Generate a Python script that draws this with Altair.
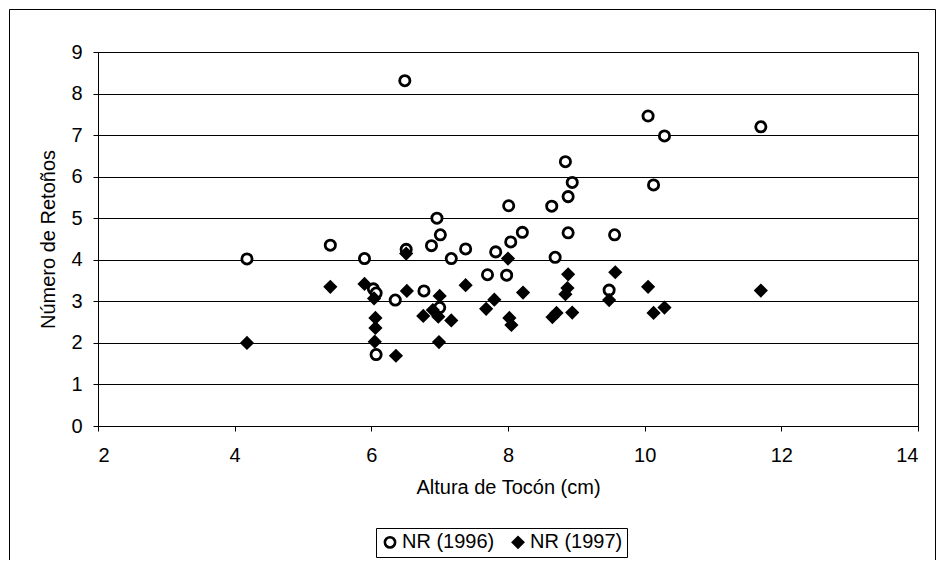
import altair as alt
import pandas as pd

# NR (1996) - open circles
x_1996 = [4.18, 5.40, 5.90, 6.49, 6.51, 6.03, 6.07, 6.35, 6.77, 6.07, 6.88, 6.96, 7.01,
          7.00, 7.17, 7.38, 7.70, 7.82, 7.98, 8.01, 8.04, 8.21, 8.64, 8.69, 8.84, 8.88,
          8.94, 8.88, 9.48, 9.56, 10.05, 10.13, 10.29, 11.70]
y_1996 = [4.02, 4.35, 4.03, 8.31, 4.25, 3.30, 3.20, 3.03, 3.25, 1.72, 4.34, 5.00, 4.60,
          2.85, 4.03, 4.26, 3.64, 4.19, 3.63, 5.30, 4.43, 4.66, 5.29, 4.06, 6.36, 5.52,
          5.86, 4.65, 3.27, 4.60, 7.46, 5.80, 6.98, 7.20]

# NR (1997) - filled diamonds
x_1997 = [4.18, 5.40, 5.90, 6.04, 6.06, 6.06, 6.05, 6.36, 6.51, 6.52, 6.76, 6.90, 6.98,
          7.00, 6.99, 7.17, 7.38, 7.68, 7.80, 8.00, 8.02, 8.05, 8.22, 8.65, 8.71, 8.88,
          8.87, 8.84, 8.94, 9.48, 9.57, 10.05, 10.13, 10.29, 11.70]
y_1997 = [2.00, 3.35, 3.42, 3.07, 2.60, 2.36, 2.03, 1.69, 4.15, 3.25, 2.65, 2.79, 2.63,
          3.13, 2.02, 2.54, 3.39, 2.82, 3.04, 4.03, 2.60, 2.43, 3.21, 2.62, 2.72, 3.65,
          3.32, 3.17, 2.73, 3.03, 3.70, 3.35, 2.72, 2.85, 3.26]

series_names = ["NR (1996)", "NR (1997)"]

df = pd.concat([
    pd.DataFrame({"x": x_1996, "y": y_1996, "serie": series_names[0]}),
    pd.DataFrame({"x": x_1997, "y": y_1997, "serie": series_names[1]}),
], ignore_index=True)

FONT = "Liberation Sans"
W, H = 820, 374
PL, PT, PR, PB = 90, 44, 18, 134

leg = alt.Legend(title=None, orient="none", direction="horizontal",
                 legendX=278, legendY=476)

points = alt.Chart(df).mark_point(filled=True, strokeWidth=2.8, opacity=1).encode(
    x=alt.X("x:Q", title="Altura de Tocón (cm)",
            scale=alt.Scale(domain=[2, 14], nice=False),
            axis=alt.Axis(values=[2, 4, 6, 8, 10, 12, 14], grid=False, labelPadding=14,
                          titlePadding=12)),
    y=alt.Y("y:Q", title="Número de Retoños",
            scale=alt.Scale(domain=[0, 9], nice=False),
            axis=alt.Axis(values=list(range(10)), grid=True, labelPadding=11,
                          titlePadding=12)),
    shape=alt.Shape("serie:N", scale=alt.Scale(domain=series_names, range=["circle", "diamond"]),
                    legend=leg),
    fill=alt.Fill("serie:N", scale=alt.Scale(domain=series_names, range=["white", "black"]),
                  legend=leg),
    stroke=alt.Stroke("serie:N", scale=alt.Scale(domain=series_names, range=["black", "black"]),
                      legend=leg),
    size=alt.Size("serie:N", scale=alt.Scale(domain=series_names, range=[105, 105]),
                  legend=leg),
)

frame_data = alt.Data(values=[{"k": 1}])
left_line = alt.Chart(frame_data).mark_rule(color="black", strokeWidth=1).encode(
    x=alt.value(-PL + 1.5), y=alt.value(-PT + 1.5), y2=alt.value(H + PB))
top_line = alt.Chart(frame_data).mark_rule(color="black", strokeWidth=1).encode(
    x=alt.value(-PL + 1.5), x2=alt.value(W + PR - 0.5), y=alt.value(-PT + 1.5))
right_line = alt.Chart(frame_data).mark_rule(color="black", strokeWidth=1).encode(
    x=alt.value(W + PR - 0.5), y=alt.value(-PT + 1.5), y2=alt.value(H + PB))

chart = alt.layer(points, left_line, top_line, right_line).properties(
    width=W, height=H,
    padding={"left": PL, "top": PT, "right": PR, "bottom": PB},
    autosize=alt.AutoSizeParams(type="none"),
).configure(
    font=FONT,
    background="white",
).configure_view(
    stroke="black", strokeWidth=1,
).configure_axis(
    domainColor="black", domainWidth=1,
    tickColor="black", tickSize=5, tickWidth=1,
    gridColor="black", gridWidth=1, gridOpacity=1,
    labelFont=FONT, labelFontSize=20, labelColor="black",
    titleFont=FONT, titleFontSize=20, titleColor="black", titleFontWeight="normal",
).configure_legend(
    labelFont=FONT, labelFontSize=20, labelColor="black",
    strokeColor="black", padding=4, symbolStrokeWidth=2.6,
    columnPadding=12, labelOffset=2, symbolSize=80,
)

chart.save("out.html", embed_options={"renderer": "svg", "actions": False})
